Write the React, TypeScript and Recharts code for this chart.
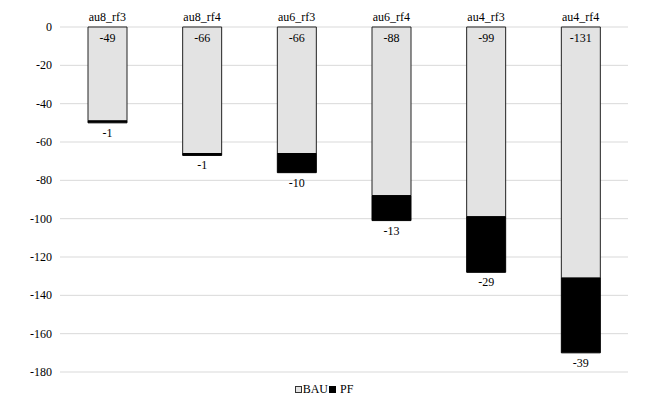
import { BarChart, Bar, XAxis, YAxis, CartesianGrid, Legend, LabelList } from "recharts";

document.body.style.margin = "0";

const categories = ["au8_rf3", "au8_rf4", "au6_rf3", "au6_rf4", "au4_rf3", "au4_rf4"];
const bauValues = [-49, -66, -66, -88, -99, -131];
const pfValues = [-1, -1, -10, -13, -29, -39];
const yTicks = [0, -20, -40, -60, -80, -100, -120, -140, -160, -180];

const FONT = "Liberation Serif, Times New Roman, DejaVu Serif, serif";

const chartData = categories.map((name, i) => ({
  name,
  BAU: bauValues[i],
  PF: pfValues[i],
}));

function BauLabel(props: any) {
  const { x, y, width, height, value } = props;
  const top = Math.min(y, y + height);
  return (
    <text x={x + width / 2} y={top + 15} textAnchor="middle" fontSize={12} style={{ fontFamily: FONT }} fill="#000">
      {value}
    </text>
  );
}

function PfLabel(props: any) {
  const { x, y, width, height, value } = props;
  const bottom = Math.max(y, y + height);
  return (
    <text x={x + width / 2} y={bottom + 14} textAnchor="middle" fontSize={12} style={{ fontFamily: FONT }} fill="#000">
      {value}
    </text>
  );
}

function CategoryTick(props: any) {
  const { x, payload } = props;
  return (
    <text x={x} y={21} textAnchor="middle" fontSize={12} style={{ fontFamily: FONT }} fill="#000">
      {payload.value}
    </text>
  );
}

function ValueTick(props: any) {
  const { x, y, payload } = props;
  return (
    <text x={x} y={y + 4} textAnchor="end" fontSize={12} style={{ fontFamily: FONT }} fill="#000">
      {payload.value}
    </text>
  );
}

function LegendContent() {
  return (
    <div style={{ display: "flex", justifyContent: "center", alignItems: "center", fontFamily: FONT, fontSize: 12, color: "#000", paddingTop: 10, paddingLeft: 20 }}>
      <span style={{ display: "inline-block", width: 5, height: 5, background: "#e3e3e3", border: "1px solid #333", marginRight: 1 }} />
      <span>BAU</span>
      <span style={{ display: "inline-block", width: 7, height: 7, background: "#000", marginLeft: 1, marginRight: 4 }} />
      <span>PF</span>
    </div>
  );
}

export default function App() {
  return (
    <div style={{ fontFamily: FONT }}>
      <BarChart width={660} height={406} data={chartData} margin={{ top: 0, right: 32, bottom: 2, left: 0 }}>
        <CartesianGrid vertical={false} stroke="#d9d9d9" />
        <XAxis dataKey="name" orientation="top" height={27} axisLine={false} tickLine={false} tick={<CategoryTick />} interval={0} />
        <YAxis
          domain={[-180, 0]}
          ticks={yTicks}
          width={60}
          axisLine={false}
          tickLine={false}
          interval={0}
          tick={<ValueTick />}
        />
        <Legend verticalAlign="bottom" height={32} content={<LegendContent />} />
        <Bar dataKey="BAU" stackId="a" fill="#e3e3e3" stroke="#222" strokeWidth={1} barSize={39} isAnimationActive={false}>
          <LabelList dataKey="BAU" content={<BauLabel />} />
        </Bar>
        <Bar dataKey="PF" stackId="a" fill="#000" stroke="#000" barSize={39} isAnimationActive={false}>
          <LabelList dataKey="PF" content={<PfLabel />} />
        </Bar>
      </BarChart>
    </div>
  );
}
